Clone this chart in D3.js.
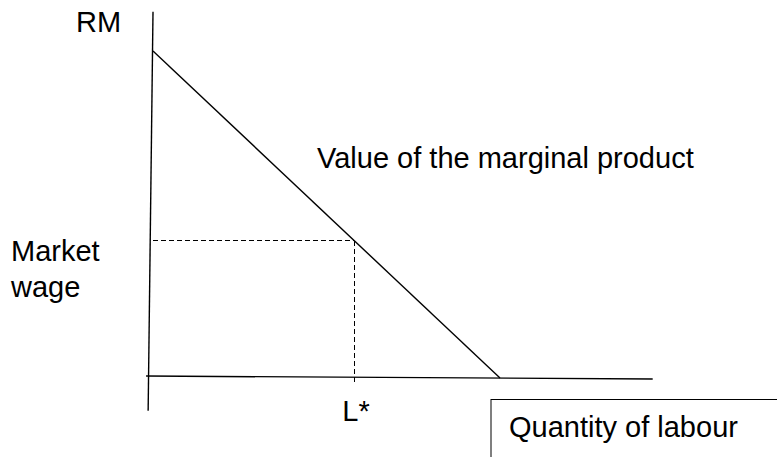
<!DOCTYPE html>
<html>
<head>
<meta charset="utf-8">
<script src="https://cdn.jsdelivr.net/npm/d3@7"></script>
<style>
  html, body { margin: 0; padding: 0; background: #fff; }
  svg { display: block; }
  text { font-family: "Liberation Sans", Arial, sans-serif; fill: #000; }
</style>
</head>
<body>
<svg id="chart" width="777" height="457"></svg>
<script>
// ---- data (units of labour, wage units) ----
const yAxisLine = [[0, 11.2], [-0.14, -1.0]];
const xAxisLine = [[-0.2, 0.06], [14.4, -0.03]];
const vmpCurve = [[0, 10], [10, 0]];
const marketWage = 4.2;
const lStar = 5.8;
const xLabel = "Quantity of labour";
const yLabel = "RM";
const curveLabel = "Value of the marginal product";
const wageLabel = ["Market", "wage"];
const lStarLabel = "L*";

const svg = d3.select("#chart");
const x = d3.scaleLinear().domain([0, 10]).range([153, 500]);
const y = d3.scaleLinear().domain([0, 10]).range([378, 51]);
const line = d3.line().x(d => x(d[0])).y(d => y(d[1]));

// axes
svg.append("path").attr("d", line(yAxisLine))
  .attr("stroke", "#000").attr("stroke-width", 1.4).attr("fill", "none");
svg.append("path").attr("d", line(xAxisLine))
  .attr("stroke", "#000").attr("stroke-width", 1.4).attr("fill", "none");

// VMP curve
svg.append("path").attr("d", line(vmpCurve))
  .attr("stroke", "#000").attr("stroke-width", 1.4).attr("fill", "none");

// dashed guides
svg.append("path").attr("d", line([[0, marketWage], [lStar, marketWage]]))
  .attr("stroke", "#000").attr("stroke-width", 1).attr("stroke-dasharray", "5,3")
  .attr("shape-rendering", "crispEdges").attr("fill", "none");
svg.append("path").attr("d", line([[lStar, marketWage], [lStar, -0.15]]))
  .attr("stroke", "#000").attr("stroke-width", 1).attr("stroke-dasharray", "5,3")
  .attr("shape-rendering", "crispEdges").attr("fill", "none");

const fs = 29;
// labels
svg.append("text").attr("x", 76).attr("y", 32).attr("font-size", fs).text(yLabel);
svg.append("text").attr("x", 317).attr("y", 168).attr("font-size", fs).text(curveLabel);
svg.append("text").attr("x", 11).attr("y", 261).attr("font-size", fs).text(wageLabel[0]);
svg.append("text").attr("x", 11).attr("y", 297).attr("font-size", fs).text(wageLabel[1]);
svg.append("text").attr("x", x(lStar) - 12).attr("y", 421).attr("font-size", fs).text(lStarLabel);

// x label box
svg.append("rect").attr("x", 491).attr("y", 399.5).attr("width", 300).attr("height", 80)
  .attr("fill", "none").attr("stroke", "#000").attr("stroke-width", 1);
svg.append("text").attr("x", 509).attr("y", 437).attr("font-size", fs).text(xLabel);
</script>
</body>
</html>
